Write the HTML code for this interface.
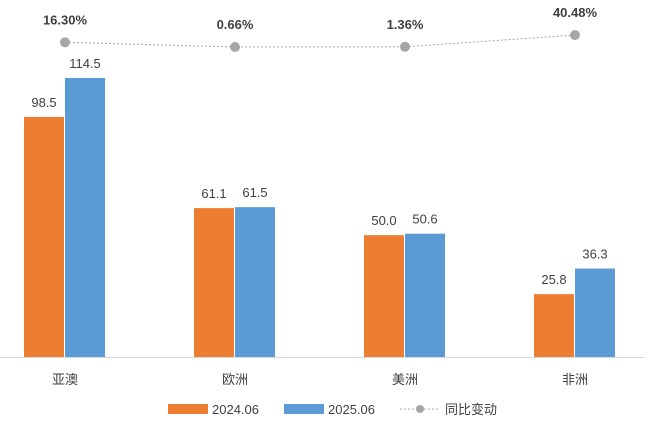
<!DOCTYPE html>
<html><head><meta charset="utf-8"><style>
body{margin:0;background:#fff;}
svg{display:block;font-family:"Liberation Sans","Noto Sans CJK SC",sans-serif;}
</style></head><body>
<svg id="chart" width="655" height="427">
<line x1="0" y1="357.5" x2="645" y2="357.5" stroke="#d9d9d9"/>
<g id="bars"></g><g id="line"></g><g id="labels"></g>
<g>
<rect x="168" y="404" width="40" height="10" fill="#ED7D31"/>
<text x="212" y="414" font-size="13" fill="#404040">2024.06</text>
<rect x="284" y="404" width="40" height="10" fill="#5B9BD5"/>
<text x="328" y="414" font-size="13" fill="#404040">2025.06</text>
<line x1="400" y1="409" x2="440" y2="409" stroke="#a6a6a6" stroke-dasharray="2,2"/>
<circle cx="420" cy="409" r="4" fill="#a6a6a6"/>
<text x="445" y="414" font-size="13" fill="#404040">同比变动</text>
</g>
</svg>
<script>
const categories=["亚澳","欧洲","美洲","非洲"];
const series2024=[98.5,61.1,50.0,25.8];
const series2025=[114.5,61.5,50.6,36.3];
const yoy=[16.30,0.66,1.36,40.48];
const NS="http://www.w3.org/2000/svg";
const base=357, scale=2.437;
const xC=i=>65+i*170;
const yB=v=>base-v*scale;
const yL=v=>47.2-v*0.3;
function mk(tag,attrs,parent){const e=document.createElementNS(NS,tag);for(const k in attrs)e.setAttribute(k,attrs[k]);parent.appendChild(e);return e;}
const gb=document.getElementById('bars'),gl=document.getElementById('line'),gt=document.getElementById('labels');
let pts=[];
categories.forEach((c,i)=>{
 const cx=xC(i);
 const r1=mk('rect',{x:cx-41,y:yB(series2024[i]),width:40,height:base-yB(series2024[i]),fill:"#ED7D31"},gb);
 
 
 const r2=mk('rect',{x:cx,y:yB(series2025[i]),width:40,height:base-yB(series2025[i]),fill:"#5B9BD5"},gb);
 
 
 const t1=mk('text',{x:cx-21,y:yB(series2024[i])-10,"text-anchor":"middle","font-size":13,fill:"#404040"},gt);
 t1.textContent=series2024[i].toFixed(1);
 
 
 const t2=mk('text',{x:cx+20,y:yB(series2025[i])-10,"text-anchor":"middle","font-size":13,fill:"#404040"},gt);
 t2.textContent=series2025[i].toFixed(1);
 
 
 const tx=mk('text',{x:cx,y:384,"text-anchor":"middle","font-size":13,fill:"#404040"},gt);
 tx.textContent=c;
 
 
 pts.push(cx+','+yL(yoy[i]));
});
const pl=mk('polyline',{points:pts.join(' '),fill:"none",stroke:"#a6a6a6","stroke-dasharray":"2,2"},gl);


yoy.forEach((v,i)=>{
 const c=mk('circle',{cx:xC(i),cy:yL(v),r:5,fill:"#a6a6a6"},gl);
 
 
 const t=mk('text',{x:xC(i),y:yL(v)-18,"text-anchor":"middle","font-size":13,"font-weight":"bold",fill:"#404040"},gt);
 t.textContent=v.toFixed(2)+'%';
 
 
});
</script>
</body></html>
